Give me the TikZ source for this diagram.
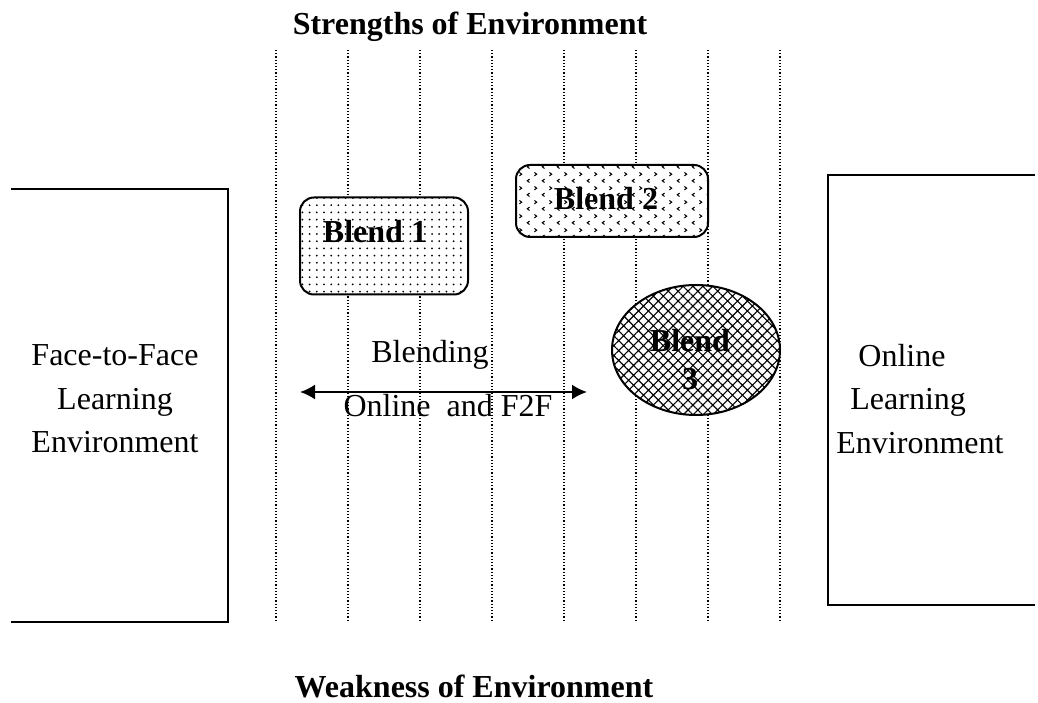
\documentclass[tikz,border=0pt]{standalone}
\usepackage{fontspec}
\setmainfont{Liberation Serif}
\usetikzlibrary{patterns,patterns.meta,shapes.geometric,arrows.meta}
\newcommand{\diagfont}{\fontsize{16}{21.75}\selectfont}
\pgfdeclarepatternformonly{chevrons}{\pgfpointorigin}{\pgfpoint{7.5pt}{7pt}}{\pgfpoint{7.5pt}{7pt}}{%
  \pgfsetlinewidth{0.55pt}
  \pgfpathmoveto{\pgfpoint{2.4pt}{0.8pt}}\pgfpathlineto{\pgfpoint{1.2pt}{1.7pt}}\pgfpathlineto{\pgfpoint{2.4pt}{2.6pt}}
  \pgfpathmoveto{\pgfpoint{5pt}{4.3pt}}\pgfpathlineto{\pgfpoint{6.2pt}{5.2pt}}\pgfpathlineto{\pgfpoint{5pt}{6.1pt}}
  \pgfusepath{stroke}}
\tikzset{
  env frame/.style={line width=1pt},
  strength line/.style={line width=0.6pt, dash pattern=on 0.6pt off 1pt},
  blend shape/.style={draw, line width=1pt, inner sep=0pt, preaction={fill=white}},
  blend box/.style={blend shape, rounded corners=7pt},
  blend text/.style={font=\diagfont\bfseries, inner sep=0pt},
  plain text/.style={font=\diagfont, inner sep=0pt},
  both arrow/.style={{Latex[length=7.5pt,width=7.5pt]}-{Latex[length=7.5pt,width=7.5pt]}, line width=1pt}
}
\begin{document}
\begin{tikzpicture}[x=0.5pt, y=0.5pt]
  \useasboundingbox (0,0) rectangle (1038,702);
  % dotted columns
  \foreach \i in {0,...,7}
    \draw[strength line] (276+72*\i,652) -- (276+72*\i,80);
  % the two environments
  \draw[env frame] (11,513) -- (228,513) -- (228,80) -- (11,80);
  \draw[env frame] (1035,527) -- (828,527) -- (828,97) -- (1035,97);
  \node[plain text, align=center] (ftf) at (115,303) {Face-to-Face\\Learning\\Environment};
  \node[plain text, align=left, anchor=west] (onl) at (836,303) {\hspace{11pt}Online\\\hspace{7pt}Learning\\Environment};
  % blends
  \node[blend box, minimum width=84pt, minimum height=48.5pt, pattern={Dots[distance=3.6pt,radius=0.5pt]}] (b1) at (384,456) {};
  \node[blend text] (b1txt) at (375,470) {Blend 1};
  \node[blend box, minimum width=96pt, minimum height=36pt, pattern=chevrons] (b2) at (612,501) {};
  \node[blend text] (b2txt) at (606,503) {Blend 2};
  \node[blend shape, ellipse, minimum width=84pt, minimum height=65pt, pattern={Hatch[angle=45,distance=3.5pt,line width=0.55pt]}] (b3) at (696,352) {};
  \node[blend text, align=center] (b3txt) at (690,342) {Blend\\[-2.75pt]3};
  % blending arrow
  \coordinate (arrL) at (300,310);
  \coordinate (arrR) at (587,310);
  \draw[both arrow] (arrL) -- (arrR);
  \node[plain text] (blending) at (430,347) {Blending};
  \node[plain text] (onf2f) at (448,296) {Online\ \ and F2F};
  % strengths and weakness
  \node[blend text] (strength) at (470,675) {Strengths of Environment};
  \node[blend text] (weakness) at (474,16) {Weakness of Environment};
\end{tikzpicture}
\end{document}
